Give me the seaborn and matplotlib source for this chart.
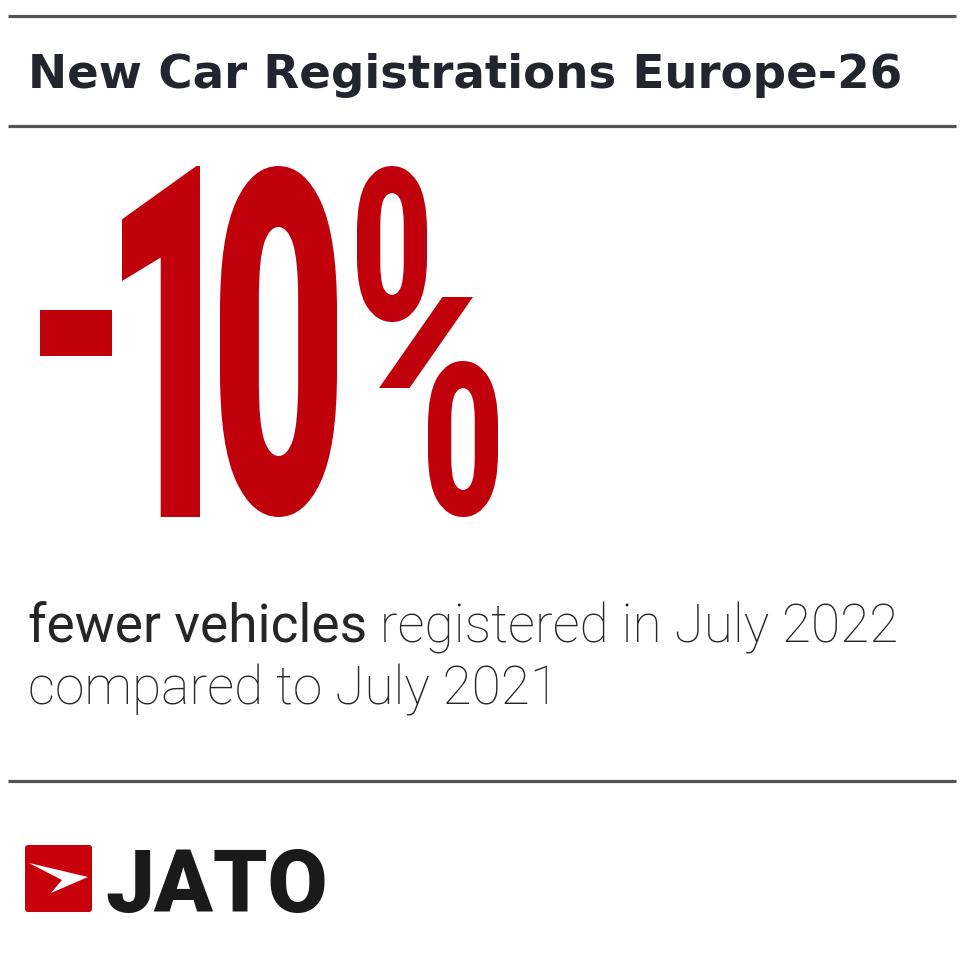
import matplotlib
matplotlib.use('Agg')
import matplotlib.pyplot as plt
import matplotlib.transforms as mtransforms
from matplotlib.font_manager import FontProperties
from matplotlib.patches import PathPatch, Polygon, FancyBboxPatch
from matplotlib.textpath import TextPath
import seaborn as sns

# Content
title = 'New Car Registrations Europe-26'
change_pct = -10
headline_value = f'{change_pct}%'
subtitle_strong = 'fewer vehicles'
subtitle_light = ' registered in July 2022'
subtitle_line2 = 'compared to July 2021'
brand = 'JATO'

RED = '#c0000a'
DARK = '#22252d'
TEXT = '#262626'
RULE = '#555555'

sns.set_theme(style='white')

fig = plt.figure(figsize=(9.6, 9.57), dpi=100)
ax = fig.add_axes([0, 0, 1, 1])
ax.set_xlim(0, 960)
ax.set_ylim(957, 0)
ax.axis('off')
renderer = fig.canvas.get_renderer()


def fit_width(texts, target):
    w = sum(t.get_window_extent(renderer).width for t in texts)
    for t in texts:
        t.set_fontsize(t.get_fontsize() * target / w)


fp_big = FontProperties(family='Roboto', weight='black')


def glyph_in_box(ch, x0, y0, x1, y1):
    tp = TextPath((0, 0), ch, size=100, prop=fp_big)
    ext = tp.get_extents()
    tr = (mtransforms.Affine2D()
          .translate(-ext.x0, -ext.y0)
          .scale((x1 - x0) / ext.width, -(y1 - y0) / ext.height)
          .translate(x0, y1))
    ax.add_patch(PathPatch(tr.transform_path(tp), fc=RED, ec='none'))


# Horizontal rules
ax.hlines([16, 126, 781], 8, 956, color=RULE, lw=2.3)

# Title
t_title = ax.text(28, 88, title, fontsize=29.5, fontweight='bold', color=DARK,
                  family='DejaVu Sans', va='baseline', ha='left')
fit_width([t_title], 877)

# Big condensed number, each glyph fitted into its own box
boxes = {'-': [('-', (40, 310, 112, 356))],
         '1': [('1', (122, 166, 200, 517))],
         '0': [('0', (220, 166, 337, 517))],
         # percent sign drawn as the tall condensed form of the reference
         '%': [('0', (357, 166, 427, 322)),
               ('/', (379, 297, 473, 388)),
               ('0', (428, 361, 498, 517))]}
for ch in headline_value:
    for part, box in boxes[ch]:
        glyph_in_box(part, *box)

# Subtitle
t1 = ax.text(28, 642, subtitle_strong, fontsize=37, family='Roboto',
             fontweight='normal', color=TEXT, va='baseline')
t2 = ax.text(0, 642, subtitle_light, fontsize=37, family='Roboto',
             fontweight='light', color=TEXT, va='baseline')
fit_width([t1, t2], 869)
t2.set_x(28 + t1.get_window_extent(renderer).width)
t3 = ax.text(28, 704, subtitle_line2, fontsize=t2.get_fontsize(), family='Roboto',
             fontweight='light', color=TEXT, va='baseline')

# Logo
ax.add_patch(FancyBboxPatch((25, 845), 67, 67,
                            boxstyle='round,pad=0,rounding_size=3',
                            fc='#c8000c', ec='none'))
ax.add_patch(Polygon([(29, 863), (88, 877), (51, 893), (62, 880)],
                     closed=True, fc='white', ec='none'))
t_brand = ax.text(105, 912, brand, fontsize=67, family='Roboto', fontweight='black',
                  color='#1a1a1a', va='baseline')
fit_width([t_brand], 222)

fig.savefig('out.png', dpi=100, facecolor='white')
